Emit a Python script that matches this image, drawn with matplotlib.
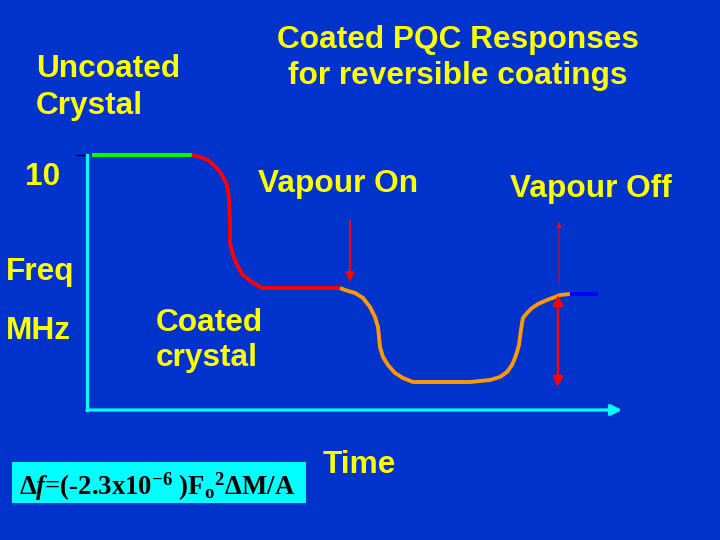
import matplotlib
matplotlib.use('Agg')
import matplotlib.pyplot as plt
from matplotlib.patches import Rectangle

# ---------------- data (time in min, frequency in MHz) ----------------
green_t = [0.10, 2.10]
green_f = [10.000, 10.000]

red_t = [2.10, 2.26, 2.42, 2.60, 2.70, 2.80, 2.84, 2.86, 2.86, 2.92, 3.00, 3.12, 3.30, 3.50, 5.06]
red_f = [10.000, 9.996, 9.990, 9.974, 9.960, 9.940, 9.914, 9.866, 9.824, 9.800, 9.780, 9.760, 9.746, 9.734, 9.734]

orange_t = [5.06, 5.16, 5.36, 5.52, 5.66, 5.76, 5.82, 5.84, 5.86, 5.92, 6.02, 6.16, 6.32, 6.52,
            7.66, 8.06, 8.26, 8.40, 8.50, 8.56, 8.60, 8.64, 8.66, 8.68, 8.70, 8.72, 8.80, 8.90,
            9.02, 9.20, 9.36, 9.46, 9.66]
orange_f = [9.734, 9.730, 9.724, 9.714, 9.696, 9.676, 9.656, 9.636, 9.616, 9.596, 9.580, 9.564, 9.554, 9.546,
            9.546, 9.550, 9.556, 9.566, 9.580, 9.594, 9.606, 9.620, 9.636, 9.650, 9.664, 9.674, 9.684, 9.694,
            9.702, 9.710, 9.716, 9.720, 9.722]

blue_t = [9.66, 10.22]
blue_f = [9.722, 9.722]

vapour_on_t = 5.26
vapour_on_f = (9.868, 9.746)
vapour_off_thin_t = 9.44
vapour_off_thin_f = (9.744, 9.866)
vapour_off_t = 9.42
vapour_off_f = (9.720, 9.536)

x_range = (0.0, 10.7)
y_range = (9.49, 10.0)
top_tick = [10.0]

BG = '#0033CC'
YEL = '#FFFF00'
CYAN = '#00FFFF'

plt.rcParams['font.family'] = ['Liberation Sans', 'DejaVu Sans']
plt.rcParams['mathtext.fontset'] = 'custom'
plt.rcParams['mathtext.rm'] = 'Liberation Serif:bold'
plt.rcParams['mathtext.it'] = 'Liberation Serif:bold:italic'
plt.rcParams['mathtext.bf'] = 'Liberation Serif:bold'

fig = plt.figure(figsize=(7.2, 5.4), dpi=100, facecolor=BG)
W, H = 720, 540
ax = fig.add_axes([87 / W, 130 / H, 535 / W, 255 / H])
ax.set_facecolor('none')
ax.set_xlim(*x_range)
ax.set_ylim(*y_range)
for s in ax.spines.values():
    s.set_visible(False)
ax.spines['left'].set_visible(True)
ax.spines['left'].set_color(CYAN)
ax.spines['left'].set_linewidth(2.3)
ax.set_xticks([])
ax.set_yticks(top_tick)
ax.set_yticklabels([''])
ax.tick_params(axis='y', direction='out', length=8, width=1, color='black')

# x axis arrow
ax.annotate('', xy=(1, 0), xytext=(0, 0), xycoords='axes fraction', textcoords='axes fraction',
            arrowprops=dict(arrowstyle='-|>', color=CYAN, lw=2.3, mutation_scale=16,
                            shrinkA=0, shrinkB=0), annotation_clip=False)

lw = 2.8
ax.plot(green_t, green_f, color='#00FF00', lw=lw, solid_capstyle='butt', clip_on=False)
ax.plot(red_t, red_f, color='#FF0000', lw=lw, solid_capstyle='butt', solid_joinstyle='round', clip_on=False)
ax.plot(orange_t, orange_f, color='#FF9900', lw=lw, solid_capstyle='butt', solid_joinstyle='round', clip_on=False)
ax.plot(blue_t, blue_f, color='#0000FF', lw=lw, solid_capstyle='butt', clip_on=False)

ax.annotate('', xy=(vapour_on_t, vapour_on_f[1]), xytext=(vapour_on_t, vapour_on_f[0]),
            arrowprops=dict(arrowstyle='-|>', color='#FF0000', lw=1.4, mutation_scale=14,
                            shrinkA=0, shrinkB=0))
ax.annotate('', xy=(vapour_off_thin_t, vapour_off_thin_f[1]), xytext=(vapour_off_thin_t, vapour_off_thin_f[0]),
            arrowprops=dict(arrowstyle='-|>', color='#FF0000', lw=0.7, mutation_scale=8,
                            shrinkA=0, shrinkB=0))
ax.annotate('', xy=(vapour_off_t, vapour_off_f[1]), xytext=(vapour_off_t, vapour_off_f[0]),
            arrowprops=dict(arrowstyle='<|-|>', color='#FF0000', lw=1.8, mutation_scale=15,
                            shrinkA=0, shrinkB=0))


def ftext(x, y, s, **kw):
    kw.setdefault('color', YEL)
    kw.setdefault('fontsize', 22.8)
    kw.setdefault('fontweight', 'bold')
    kw.setdefault('va', 'baseline')
    kw.setdefault('ha', 'left')
    fig.text(x / W, 1 - y / H, s, **kw)


ftext(458, 48, 'Coated PQC Responses', ha='center')
ftext(458, 84, 'for reversible coatings', ha='center')
ftext(36, 77, 'Uncoated')
ftext(36, 114, 'Crystal')
ftext(25, 185, '10')
ftext(6, 280, 'Freq')
ftext(6, 339, 'MHz')
ftext(258, 192, 'Vapour On')
ftext(510, 197, 'Vapour Off')
ftext(156, 331, 'Coated')
ftext(156, 366, 'crystal')
ftext(323, 473, 'Time')

# formula box
fig.patches.append(Rectangle((12 / W, 1 - 503 / H), 294 / W, 41 / H, transform=fig.transFigure,
                             facecolor=CYAN, edgecolor='none', zorder=1))
formula = '\u0394$\\mathit{f}$=(-2.3x10$^{\\mathrm{-6}}$ )F$_{\\mathrm{o}}$$^{\\mathrm{2}}$\u0394M/A'
ftext(19, 495, formula, color='black', fontsize=19.3, family=['Liberation Serif'], zorder=2)

fig.savefig('out.png', dpi=100, facecolor=BG)
